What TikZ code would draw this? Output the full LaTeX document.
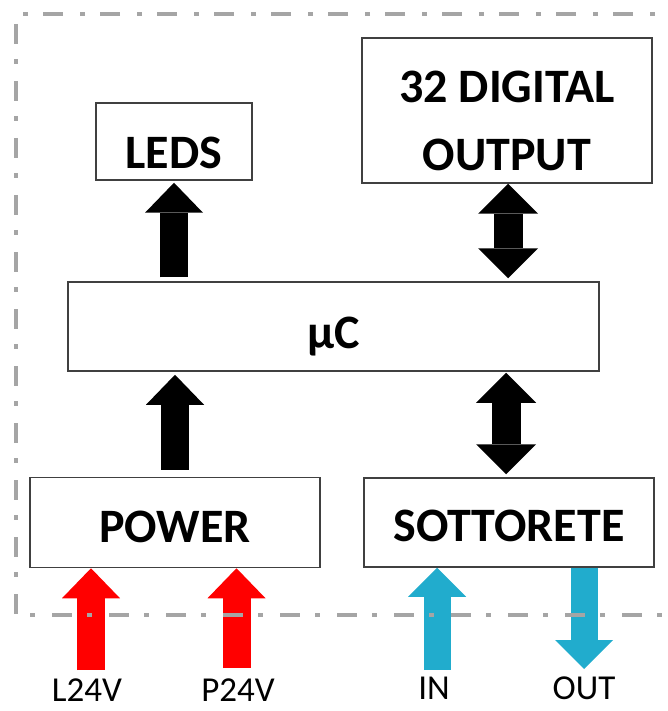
\documentclass[tikz,border=0pt]{standalone}
\usepackage{fontspec}
\setmainfont{Carlito}
\usetikzlibrary{arrows.meta}

\definecolor{netblue}{RGB}{33,172,205}
\definecolor{frmgray}{RGB}{165,165,165}

\begin{document}
\begin{tikzpicture}[
  x=1pt, y=-1pt,
  blk/.style={draw=black!75, line width=1.5pt, fill=white, inner sep=0pt,
              font=\bfseries\fontsize{48}{68}\selectfont, align=center},
  blkarr/.style={line width=28pt, -{Triangle[width=58pt, length=30pt, line width=0pt]}},
  dblarr/.style={line width=29pt,
                 {Triangle[width=60pt, length=30pt, line width=0pt]}-{Triangle[width=60pt, length=30pt, line width=0pt]}},
  pwrarr/.style={blkarr, red},
  netarr/.style={line width=27pt, netblue, -{Triangle[width=58pt, length=29pt, line width=0pt]}},
  sig/.style={font=\fontsize{35}{40}\selectfont, inner sep=0pt},
  frame/.style={frmgray, line width=4.5pt, dash pattern=on 20pt off 15pt on 5pt off 17pt}
]
\useasboundingbox (0,0) rectangle (668,711);

%
%  Layout (pixels, y down):
%
%         [LEDS]          [32 DIGITAL OUTPUT]
%                 [ muC ]
%        [POWER]          [SOTTORETE]
%      L24V   P24V       IN        OUT
%

% --- blocks ---
\node[blk, minimum width=156pt, minimum height=77pt, text height=55pt, text depth=0pt]
      (leds) at (174, 141.5) {LEDS};
\node[blk, minimum width=290pt, minimum height=145pt, text height=120pt, text depth=0pt]
      (dig) at (507, 110.5) {32 DIGITAL\\OUTPUT};
\node[blk, minimum width=531pt, minimum height=89pt, text height=44pt, text depth=0pt]
      (mc) at (333.5, 326.5) {µC};
\node[blk, minimum width=290pt, minimum height=90pt, text height=40pt, text depth=0pt]
      (pwr) at (175, 522.5) {POWER};
\node[blk, minimum width=290pt, minimum height=89pt, text height=38pt, text depth=0pt]
      (sub) at (509, 522.5) {SOTTORETE};

% --- inputs / outputs ---
\coordinate (l24) at (91, 670);
\coordinate (p24) at (236.5, 668);
\coordinate (sin) at (437, 670);
\coordinate (sout) at (584, 669);
\node[sig] (l24lbl) at (87, 690) {L24V};
\node[sig] (p24lbl) at (238, 690) {P24V};
\node[sig] (inlbl) at (434, 688) {IN};
\node[sig] (outlbl) at (584, 688) {OUT};

% ---- Connections ----

% POWER -> muC
\draw[blkarr] ([yshift=7pt]pwr.north) -- ([yshift=-3pt]mc.south -| pwr);

% muC -> LEDS
\draw[blkarr] ([yshift=4pt]leds.south |- mc.north) -- ([yshift=-2pt]leds.south);

% muC <-> 32 DIGITAL OUTPUT
\draw[dblarr] ([xshift=1pt, yshift=3pt]dig.south |- mc.north) -- ([xshift=1pt]dig.south);

% muC <-> SOTTORETE
\draw[dblarr] ([xshift=-3pt, yshift=-1pt]mc.south -| sub) -- ([xshift=-3pt, yshift=3pt]sub.north);

% supply inputs
\draw[pwrarr] (l24) -- (l24 |- pwr.south);
\draw[pwrarr] (p24) -- (p24 |- pwr.south);

% network in / out
\draw[netarr] (sin) -- (sin |- sub.south);
\draw[netarr] (sout |- sub.south) -- (sout);

% --- boundary ---
\draw[frame] (690, 14) -- (16, 14) -- (16, 615) -- (690, 615);

\end{tikzpicture}
\end{document}
